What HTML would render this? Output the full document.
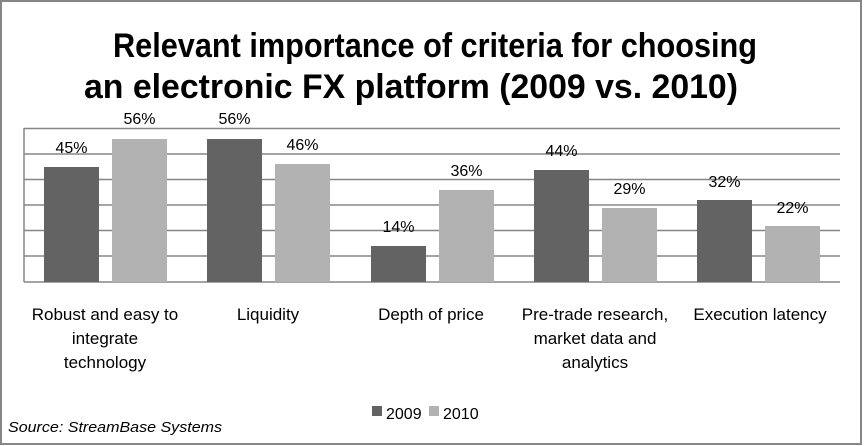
<!DOCTYPE html>
<html><head><style>
html,body{margin:0;padding:0;background:#fff;}
svg{display:block;font-family:"Liberation Sans",sans-serif;}
</style></head><body>
<svg width="864" height="446" viewBox="0 0 864 446">
<rect x="1" y="1" width="860" height="443" fill="#fff" stroke="#868686" stroke-width="2"/>
<text x="435" y="57" text-anchor="middle" font-size="34" font-weight="bold" fill="#000" textLength="644" lengthAdjust="spacingAndGlyphs">Relevant importance of criteria for choosing</text>
<text x="411" y="98" text-anchor="middle" font-size="34" font-weight="bold" fill="#000" textLength="654" lengthAdjust="spacingAndGlyphs">an electronic FX platform (2009 vs. 2010)</text>
<g stroke="#868686" stroke-width="1.5">
<line x1="24" y1="128.5" x2="840" y2="128.5"/>
<line x1="24" y1="154" x2="840" y2="154"/>
<line x1="24" y1="179.5" x2="840" y2="179.5"/>
<line x1="24" y1="205" x2="840" y2="205"/>
<line x1="24" y1="230.5" x2="840" y2="230.5"/>
<line x1="24" y1="256" x2="840" y2="256"/>
<line x1="24" y1="282" x2="840" y2="282"/>
<line x1="24" y1="128" x2="24" y2="282"/>
</g>
<g font-size="16" text-anchor="middle" fill="#000">
<rect x="44" y="167" width="55" height="115" fill="#636363"/><text x="71.5" y="153">45%</text>
<rect x="112" y="139" width="55" height="143" fill="#b2b2b2"/><text x="139.5" y="124">56%</text>
<rect x="207" y="139" width="55" height="143" fill="#636363"/><text x="234.5" y="124">56%</text>
<rect x="275" y="164" width="55" height="118" fill="#b2b2b2"/><text x="302.5" y="150">46%</text>
<rect x="371" y="246" width="55" height="36" fill="#636363"/><text x="398.5" y="232">14%</text>
<rect x="439" y="190" width="55" height="92" fill="#b2b2b2"/><text x="466.5" y="176">36%</text>
<rect x="534" y="170" width="55" height="112" fill="#636363"/><text x="561.5" y="156">44%</text>
<rect x="602" y="208" width="55" height="74" fill="#b2b2b2"/><text x="629.5" y="194">29%</text>
<rect x="697" y="200" width="55" height="82" fill="#636363"/><text x="724.5" y="187">32%</text>
<rect x="765" y="226" width="55" height="56" fill="#b2b2b2"/><text x="792.5" y="213">22%</text>
</g>
<g font-size="17" text-anchor="middle" fill="#000">
<text x="105" y="320">Robust and easy to</text>
<text x="105" y="344">integrate</text>
<text x="105" y="368">technology</text>
<text x="268" y="320">Liquidity</text>
<text x="431" y="320">Depth of price</text>
<text x="595" y="320">Pre-trade research,</text>
<text x="595" y="344">market data and</text>
<text x="595" y="368">analytics</text>
<text x="760" y="320">Execution latency</text>
</g>
<rect x="372" y="406" width="10" height="10" fill="#636363"/>
<text x="386" y="419" font-size="16">2009</text>
<rect x="429" y="406" width="10" height="10" fill="#b2b2b2"/>
<text x="443" y="419" font-size="16">2010</text>
<text x="8" y="432" font-size="15" font-style="italic" textLength="214" lengthAdjust="spacingAndGlyphs">Source: StreamBase Systems</text>
</svg>
</body></html>
